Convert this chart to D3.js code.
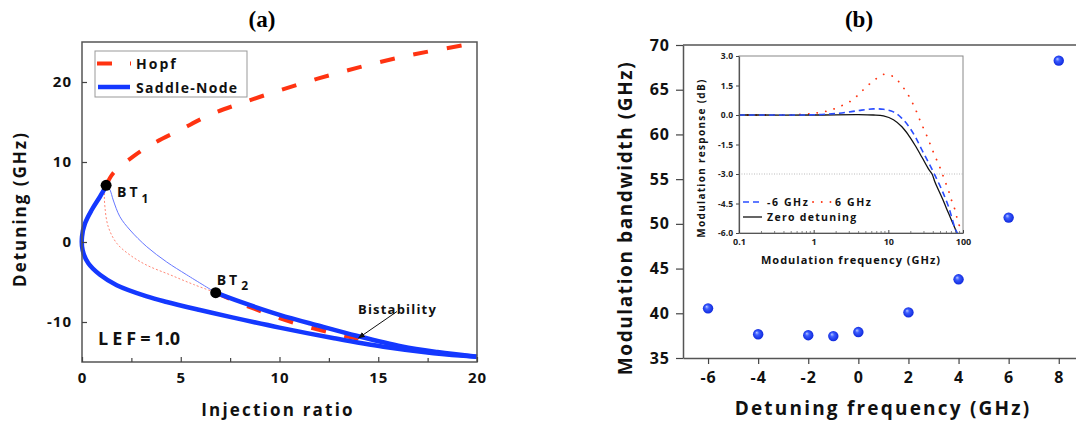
<!DOCTYPE html>
<html><head><meta charset="utf-8">
<script src="https://cdn.jsdelivr.net/npm/d3@7"></script>
<style>
body{margin:0;background:#fff;}
svg{display:block;font-family:"Open Sans",sans-serif;font-weight:bold;}
</style></head>
<body>
<svg id="c" width="1076" height="423"></svg>
<script>
// ---------- Panel (a) data ----------
const hopfUpperX = [1.22, 1.58, 2.6, 3.6, 4.96, 6.48, 8.0, 9.69, 11.37, 13.06, 14.92, 16.9, 20];
const hopfUpperY = [7.08, 8.6, 10.7, 12.3, 14.0, 15.9, 17.3, 18.7, 20.0, 21.2, 22.4, 23.5, 24.9];
const hopfLowerX = [6.77, 8.0, 9.0, 10.0, 11.0, 12.05, 13.06, 14.0];
const hopfLowerY = [-6.33, -7.65, -8.6, -9.5, -10.3, -11.0, -11.6, -12.1];
const snMainX = [1.25, 0.91, 0.49, 0.15, 0.0, 0.03, 0.32, 0.91, 1.76, 3.28, 4.29, 5.97, 7.66, 10.0, 12.7, 15.26, 17.8, 20];
const snMainY = [7.1, 5.66, 4.0, 2.3, 0.66, -1.0, -2.66, -4.1, -5.4, -6.8, -7.5, -8.5, -9.45, -10.7, -12.0, -13.1, -13.9, -14.35];
const snUpperX = [6.77, 8.0, 10.0, 12.05, 13.9, 16.2, 18.0, 20];
const snUpperY = [-6.33, -7.46, -9.1, -10.5, -11.72, -13.05, -13.75, -14.35];
const thinBlueX = [1.25, 1.42, 1.58, 1.92, 2.43, 3.28, 4.29, 5.3, 6.77];
const thinBlueY = [7.1, 6.5, 5.25, 3.16, 1.5, -0.59, -2.5, -4.1, -6.33];
const thinRedX = [1.22, 1.14, 1.16, 1.33, 1.76, 2.43, 3.28, 4.46, 5.64, 6.77];
const thinRedY = [7.08, 6.0, 4.4, 1.9, -0.16, -1.63, -2.9, -4.1, -5.3, -6.33];
const btNames = ["1", "2"];
const btX = [1.22, 6.77];
const btY = [7.08, -6.33];
const aXTicks = [0, 5, 10, 15, 20];
const aXMinor = [2.5, 7.5, 12.5, 17.5];
const aYTicks = [-10, 0, 10, 20];

// ---------- Panel (b) data ----------
const detuning = [-6, -4, -2, -1, 0, 2, 4, 6, 8];
const bandwidth = [40.55, 37.65, 37.55, 37.45, 37.9, 40.1, 43.8, 50.7, 68.25];
const bXTicks = [-6, -4, -2, 0, 2, 4, 6, 8];
const bYTicks = [35, 40, 45, 50, 55, 60, 65, 70];

// ---------- Inset data ----------
const zeroF = [0.1, 1, 4, 6.3, 8.6, 11.7, 15.2, 18.6, 22.9, 28.2, 34.6, 38.5, 42.5, 52.2, 64.1, 78.8, 83];
const zeroR = [0, 0, 0.02, 0, -0.05, -0.24, -0.6, -1.02, -1.55, -2.15, -2.75, -3.0, -3.45, -4.2, -5.0, -5.8, -6.0];
const negF = [0.1, 1, 1.6, 2.2, 3.2, 4.4, 6.3, 8.6, 11.7, 15.2, 18.6, 22.9, 28.2, 34.6, 42.5, 52.2, 64.1, 78.8, 84];
const negR = [0, 0.01, 0.05, 0.09, 0.17, 0.25, 0.31, 0.29, 0.16, -0.17, -0.56, -1.1, -1.78, -2.42, -3.1, -3.82, -4.67, -5.8, -6.0];
const posF = [0.1, 0.5, 0.8, 1, 1.3, 1.7, 2.2, 3, 3.9, 5, 6.7, 8.8, 11.7, 14.4, 17.7, 20.7, 23.6, 26.2, 29.6, 33.5, 37.2, 41.6, 47.1, 52.3, 57.9, 64.1, 69.7, 77.1, 83, 94];
const posR = [0, 0.01, 0.05, 0.08, 0.15, 0.25, 0.42, 0.66, 1.0, 1.41, 1.81, 2.07, 1.95, 1.61, 1.13, 0.67, 0.21, -0.22, -0.68, -1.14, -1.58, -2.04, -2.5, -2.94, -3.4, -3.86, -4.3, -4.76, -5.22, -5.9];
const inYTicks = [3.0, 1.5, 0.0, -1.5, -3.0, -4.5, -6.0];
const inXTicks = [0.1, 1, 10, 100];

const svg = d3.select("#c");
const defs = svg.append("defs");
const BLUE = "#1438ff", RED = "#ff3311", AX = "#444";
const zip = (xs, ys) => xs.map((x, i) => [x, ys[i]]);
const hy = s => String(s).replace("\u2212", "-");

// ================= Panel (a) =================
const ax = d3.scaleLinear().domain([0, 20]).range([82, 477]);
const ay = d3.scaleLinear().domain([-15, 25]).range([362, 42]);
const ga = svg.append("g");
const la = d3.line().x(d => ax(d[0])).y(d => ay(d[1])).curve(d3.curveCatmullRom.alpha(0.5));

ga.append("path").attr("d", la(zip(hopfLowerX, hopfLowerY))).attr("fill", "none")
  .attr("stroke", RED).attr("stroke-width", 4).attr("stroke-dasharray", "15 19");
ga.append("path").attr("d", la(zip(thinRedX, thinRedY))).attr("fill", "none")
  .attr("stroke", "#ff8877").attr("stroke-width", 1).attr("stroke-dasharray", "2 2");
ga.append("path").attr("d", la(zip(thinBlueX, thinBlueY))).attr("fill", "none")
  .attr("stroke", "#6677ff").attr("stroke-width", 1);
ga.append("path").attr("d", la(zip(snUpperX, snUpperY))).attr("fill", "none")
  .attr("stroke", BLUE).attr("stroke-width", 4.5);
ga.append("path").attr("d", la(zip(snMainX, snMainY))).attr("fill", "none")
  .attr("stroke", BLUE).attr("stroke-width", 4.5).attr("stroke-linejoin", "round");
ga.append("path").attr("d", la(zip(hopfUpperX, hopfUpperY))).attr("fill", "none")
  .attr("stroke", RED).attr("stroke-width", 4).attr("stroke-dasharray", "15 19");

// frame
ga.append("rect").attr("x", 82).attr("y", 42).attr("width", 395).attr("height", 320)
  .attr("fill", "none").attr("stroke", "#555").attr("stroke-width", 1.5);
// axes with inward ticks
const axB = d3.axisBottom(ax).tickValues(aXTicks).tickSizeInner(-5).tickSizeOuter(0).tickPadding(10);
const gxa = ga.append("g").attr("transform", "translate(0,362)").call(axB);
gxa.select(".domain").remove();
gxa.selectAll("line").attr("stroke", AX).attr("stroke-width", 1.2);
gxa.selectAll("text").attr("font-size", 15).attr("font-weight", "bold").attr("fill", "#111")
  .attr("font-family", "Open Sans").attr("letter-spacing", 1);
ga.append("g").attr("transform", "translate(0,362)")
  .call(d3.axisBottom(ax).tickValues(aXMinor).tickSizeInner(-4).tickSizeOuter(0).tickFormat(""))
  .call(g => { g.select(".domain").remove(); g.selectAll("line").attr("stroke", AX).attr("stroke-width", 1.2); });
const gya = ga.append("g").attr("transform", "translate(82,0)")
  .call(d3.axisLeft(ay).tickValues(aYTicks).tickSizeInner(-5).tickSizeOuter(0).tickPadding(10).tickFormat(d => hy(d)));
gya.select(".domain").remove();
gya.selectAll("line").attr("stroke", AX).attr("stroke-width", 1.2);
gya.selectAll("text").attr("font-size", 15).attr("font-weight", "bold").attr("fill", "#111")
  .attr("font-family", "Open Sans").attr("letter-spacing", 1);

// BT points
btX.forEach((x, i) => {
  ga.append("circle").attr("cx", ax(x)).attr("cy", ay(btY[i])).attr("r", 5.5).attr("fill", "#000");
});
const bt1 = ga.append("text").attr("x", ax(btX[0]) + 11).attr("y", ay(btY[0]) + 12)
  .attr("font-size", 14).attr("letter-spacing", 3).attr("fill", "#111");
bt1.append("tspan").text("BT");
bt1.append("tspan").attr("dy", 6).attr("font-size", 12).attr("dx", 1).text(btNames[0]);
const bt2 = ga.append("text").attr("x", ax(btX[1]) + 1).attr("y", ay(btY[1]) - 8)
  .attr("font-size", 14).attr("letter-spacing", 3).attr("fill", "#111");
bt2.append("tspan").text("BT");
bt2.append("tspan").attr("dy", 5).attr("font-size", 12).attr("dx", 1).text(btNames[1]);

// Bistability annotation
ga.append("text").attr("x", 358).attr("y", 314).attr("font-size", 13).attr("letter-spacing", 1.2)
  .attr("fill", "#111").text("Bistability");
defs.append("marker").attr("id", "arr").attr("viewBox", "0 0 10 10")
  .attr("refX", 9).attr("refY", 5).attr("markerWidth", 7).attr("markerHeight", 7).attr("orient", "auto")
  .append("path").attr("d", "M0,1 L10,5 L0,9 z").attr("fill", "#111");
ga.append("line").attr("x1", 397).attr("y1", 311.5).attr("x2", ax(14.0)).attr("y2", ay(-12.0))
  .attr("stroke", "#111").attr("stroke-width", 1).attr("marker-end", "url(#arr)");

// LEF label
const lef = ga.append("text").attr("x", 98).attr("y", 345).attr("font-size", 18).attr("fill", "#111");
lef.append("tspan").attr("letter-spacing", 4).text("LEF=");
lef.append("tspan").attr("letter-spacing", 0).text("1.0");

// legend
const lg = ga.append("g");
lg.append("rect").attr("x", 95).attr("y", 51).attr("width", 152).attr("height", 46)
  .attr("fill", "#fff").attr("stroke", "#999").attr("stroke-width", 1);
lg.append("line").attr("x1", 97).attr("x2", 131).attr("y1", 63.5).attr("y2", 63.5)
  .attr("stroke", RED).attr("stroke-width", 4).attr("stroke-dasharray", "15 18");
lg.append("line").attr("x1", 98).attr("x2", 130).attr("y1", 87).attr("y2", 87)
  .attr("stroke", BLUE).attr("stroke-width", 4.5);
lg.append("text").attr("x", 136).attr("y", 69).attr("font-size", 14).attr("letter-spacing", 2)
  .attr("fill", "#111").text("Hopf");
lg.append("text").attr("x", 136).attr("y", 92.5).attr("font-size", 14).attr("letter-spacing", 1.3)
  .attr("fill", "#111").text("Saddle-Node");

// titles & labels
svg.append("text").attr("x", 262).attr("y", 27).attr("text-anchor", "middle")
  .attr("font-family", "Liberation Serif").attr("font-size", 23).attr("fill", "#000").text("(a)");
svg.append("text").attr("x", 278).attr("y", 416).attr("text-anchor", "middle")
  .attr("font-size", 17).attr("letter-spacing", 2.2).attr("fill", "#111").text("Injection ratio");
svg.append("text").attr("transform", "translate(26,209) rotate(-90)").attr("text-anchor", "middle")
  .attr("font-size", 17).attr("letter-spacing", 2).attr("fill", "#111").text("Detuning (GHz)");

// ================= Panel (b) =================
const bx = d3.scaleLinear().domain([-7, 9]).range([683, 1083.8]);
const by = d3.scaleLinear().domain([35, 70]).range([358, 45]);
const gb = svg.append("g");
gb.append("line").attr("x1", 683).attr("x2", 1076).attr("y1", 45).attr("y2", 45)
  .attr("stroke", "#555").attr("stroke-width", 1.5);
const gxb = gb.append("g").attr("transform", "translate(0,358)")
  .call(d3.axisBottom(bx).tickValues(bXTicks).tickSizeInner(6).tickSizeOuter(0).tickPadding(8).tickFormat(d => hy(d)));
gxb.select(".domain").attr("stroke", "#555").attr("stroke-width", 1.5);
gxb.selectAll("line").attr("stroke", AX).attr("stroke-width", 1.2);
gxb.selectAll("text").attr("font-size", 16).attr("font-weight", "bold").attr("fill", "#111")
  .attr("font-family", "Open Sans").attr("letter-spacing", 1);
const gyb = gb.append("g").attr("transform", "translate(683,0)")
  .call(d3.axisLeft(by).tickValues(bYTicks).tickSizeInner(7).tickSizeOuter(0).tickPadding(6));
gyb.select(".domain").attr("stroke", "#555").attr("stroke-width", 1.5);
gyb.selectAll("line").attr("stroke", AX).attr("stroke-width", 1.2);
gyb.selectAll("text").attr("font-size", 16).attr("font-weight", "bold").attr("fill", "#111")
  .attr("font-family", "Open Sans").attr("letter-spacing", 1);

const grad = defs.append("radialGradient").attr("id", "sph")
  .attr("cx", "50%").attr("cy", "50%").attr("r", "55%").attr("fx", "35%").attr("fy", "32%");
grad.append("stop").attr("offset", "0%").attr("stop-color", "#b8c6ff");
grad.append("stop").attr("offset", "35%").attr("stop-color", "#3a5cff");
grad.append("stop").attr("offset", "100%").attr("stop-color", "#0a22d8");
gb.selectAll("circle.pt").data(detuning).join("circle").attr("class", "pt")
  .attr("cx", d => bx(d)).attr("cy", (d, i) => by(bandwidth[i])).attr("r", 5.2)
  .attr("fill", "url(#sph)");

svg.append("text").attr("x", 883).attr("y", 415).attr("text-anchor", "middle")
  .attr("font-size", 19).attr("letter-spacing", 2.2).attr("fill", "#111").text("Detuning frequency (GHz)");
svg.append("text").attr("transform", "translate(632,218) rotate(-90)").attr("text-anchor", "middle")
  .attr("font-size", 19).attr("letter-spacing", 1.6).attr("fill", "#111").text("Modulation bandwidth (GHz)");
svg.append("text").attr("x", 859).attr("y", 27).attr("text-anchor", "middle")
  .attr("font-family", "Liberation Serif").attr("font-size", 23).attr("fill", "#000").text("(b)");

// ================= Inset =================
const ix = d3.scaleLog().domain([0.1, 100]).range([739, 963]);
const iy = d3.scaleLinear().domain([-6, 3]).range([233, 56]);
const gi = svg.append("g");
gi.append("rect").attr("x", 739).attr("y", 56).attr("width", 224).attr("height", 177)
  .attr("fill", "#fff").attr("stroke", "#888").attr("stroke-width", 1);
gi.append("line").attr("x1", 739).attr("x2", 963).attr("y1", iy(-3)).attr("y2", iy(-3))
  .attr("stroke", "#aaa").attr("stroke-width", 0.8).attr("stroke-dasharray", "1 1.5");
const li = d3.line().x(d => ix(d[0])).y(d => iy(d[1])).curve(d3.curveCatmullRom.alpha(0.5));
const clip = defs.append("clipPath").attr("id", "ic");
clip.append("rect").attr("x", 739).attr("y", 50).attr("width", 226).attr("height", 185);
gi.append("path").attr("d", li(zip(posF, posR))).attr("fill", "none").attr("clip-path", "url(#ic)")
  .attr("stroke", RED).attr("stroke-width", 1.8).attr("stroke-linecap", "round").attr("stroke-dasharray", "0.1 8.6");
gi.append("path").attr("d", li(zip(zeroF, zeroR))).attr("fill", "none").attr("clip-path", "url(#ic)")
  .attr("stroke", "#111").attr("stroke-width", 1.3);
gi.append("path").attr("d", li(zip(negF, negR))).attr("fill", "none").attr("clip-path", "url(#ic)")
  .attr("stroke", "#2a4dff").attr("stroke-width", 1.6).attr("stroke-dasharray", "6 4");

const gyi = gi.append("g").attr("transform", "translate(739,0)")
  .call(d3.axisLeft(iy).tickValues(inYTicks).tickSizeInner(3).tickSizeOuter(0).tickPadding(3).tickFormat(d => hy(d3.format(".1f")(d))));
gyi.select(".domain").attr("stroke", "#555").attr("stroke-width", 1.2);
gyi.selectAll("line").attr("stroke", AX);
gyi.selectAll("text").attr("font-size", 8.5).attr("font-weight", "bold").attr("fill", "#222").attr("font-family", "Open Sans");
const gxi = gi.append("g").attr("transform", "translate(0,233)")
  .call(d3.axisBottom(ix).tickValues(inXTicks).tickSizeInner(-3).tickSizeOuter(0).tickPadding(6).tickFormat(d => String(d)));
gxi.select(".domain").attr("stroke", "#555").attr("stroke-width", 1.2);
gxi.selectAll("line").attr("stroke", AX);
gxi.selectAll("text").attr("font-size", 9).attr("font-weight", "bold").attr("fill", "#222").attr("font-family", "Open Sans");
const minorF = ix.ticks().filter(t => !inXTicks.includes(t));
gi.append("g").selectAll("line").data(minorF).join("line")
  .attr("x1", d => ix(d)).attr("x2", d => ix(d)).attr("y1", 233).attr("y2", 231)
  .attr("stroke", "#666").attr("stroke-width", 0.8);

gi.append("text").attr("x", 851).attr("y", 264).attr("text-anchor", "middle")
  .attr("font-size", 11).attr("letter-spacing", 1).attr("fill", "#111").text("Modulation frequency (GHz)");
gi.append("text").attr("transform", "translate(705,158) rotate(-90)").attr("text-anchor", "middle")
  .attr("font-size", 10).attr("letter-spacing", 1.3).attr("fill", "#111").text("Modulation response (dB)");

// inset legend
gi.append("line").attr("x1", 743).attr("x2", 762).attr("y1", 202).attr("y2", 202)
  .attr("stroke", "#2a4dff").attr("stroke-width", 1.6).attr("stroke-dasharray", "6 4");
gi.append("text").attr("x", 767).attr("y", 206).attr("font-size", 10.5).attr("letter-spacing", 1.6)
  .attr("fill", "#111").text("-6 GHz");
gi.append("line").attr("x1", 813).attr("x2", 831).attr("y1", 202).attr("y2", 202)
  .attr("stroke", RED).attr("stroke-width", 1.8).attr("stroke-linecap", "round").attr("stroke-dasharray", "0.1 8.6");
gi.append("text").attr("x", 835).attr("y", 206).attr("font-size", 10.5).attr("letter-spacing", 1.6)
  .attr("fill", "#111").text("6 GHz");
gi.append("line").attr("x1", 743).attr("x2", 762).attr("y1", 217).attr("y2", 217)
  .attr("stroke", "#111").attr("stroke-width", 1.3);
gi.append("text").attr("x", 767).attr("y", 221).attr("font-size", 10.5).attr("letter-spacing", 1.3)
  .attr("fill", "#111").text("Zero detuning");
</script>
</body></html>
